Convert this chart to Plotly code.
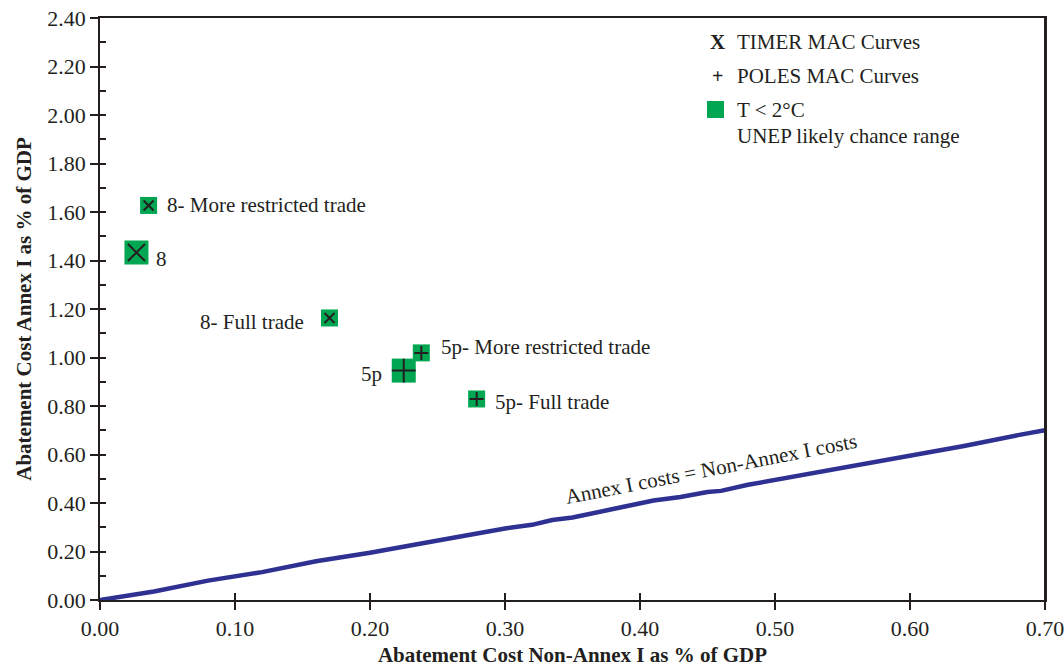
import plotly.graph_objects as go

# Equal-cost reference line (Annex I costs = Non-Annex I costs)
line_x = [0.00, 0.04, 0.08, 0.12, 0.16, 0.20, 0.24, 0.28, 0.30, 0.32, 0.335, 0.35, 0.37,
          0.38, 0.41, 0.43, 0.45, 0.46, 0.48, 0.50, 0.52, 0.56, 0.60, 0.64, 0.68, 0.70]
line_y = [0.00, 0.035, 0.08, 0.115, 0.16, 0.195, 0.235, 0.275, 0.295, 0.31, 0.33, 0.34, 0.365,
          0.375, 0.41, 0.425, 0.445, 0.45, 0.475, 0.495, 0.515, 0.555, 0.595, 0.635, 0.68, 0.70]

# Scenario points
timer_names = ["8- More restricted trade", "8", "8- Full trade"]
timer_x = [0.036, 0.027, 0.170]
timer_y = [1.627, 1.433, 1.163]
timer_big = [False, True, False]

poles_names = ["5p- More restricted trade", "5p", "5p- Full trade"]
poles_x = [0.238, 0.225, 0.279]
poles_y = [1.019, 0.946, 0.829]
poles_big = [False, True, False]

x_ticks = [0.0, 0.1, 0.2, 0.3, 0.4, 0.5, 0.6, 0.7]
y_ticks = [0.0, 0.2, 0.4, 0.6, 0.8, 1.0, 1.2, 1.4, 1.6, 1.8, 2.0, 2.2, 2.4]

GREEN = "#00a651"
INK = "#231f20"
BLUE = "#2e3192"
FONT = "Liberation Serif"
TXT = 21
TICK = 22

fig = go.Figure()

fig.add_trace(go.Scatter(x=line_x, y=line_y, mode="lines",
                         line=dict(color=BLUE, width=4.5), hoverinfo="skip"))

def add_points(xs, ys, big, symbol):
    sq = [24 if b else 17 for b in big]
    mk = [17 if b else 10 for b in big]
    fig.add_trace(go.Scatter(x=xs, y=ys, mode="markers",
                             marker=dict(symbol="square", size=sq, color=GREEN,
                                         opacity=1, line=dict(width=0))))
    fig.add_trace(go.Scatter(x=xs, y=ys, mode="markers",
                             marker=dict(symbol=symbol, size=mk, color=INK, opacity=1,
                                         line=dict(width=2, color=INK))))

add_points(timer_x, timer_y, timer_big, "x-thin")
add_points(poles_x, poles_y, poles_big, "cross-thin")

# hidden trace to anchor the overlay axes carrying the inner ticks
fig.add_trace(go.Scatter(x=[0], y=[0], xaxis="x2", yaxis="y2", mode="markers",
                         marker=dict(opacity=0), hoverinfo="skip"))

lab = dict(font=dict(family=FONT, size=TXT, color=INK), showarrow=False,
           yanchor="middle")
# point labels
fig.add_annotation(x=timer_x[0], y=timer_y[0], text=timer_names[0], xanchor="left",
                   xshift=16, **lab)
fig.add_annotation(x=timer_x[1], y=timer_y[1], text=timer_names[1], xanchor="left",
                   xshift=18, yshift=-6, **lab)
fig.add_annotation(x=timer_x[2], y=timer_y[2], text=timer_names[2], xanchor="right",
                   xshift=-24, yshift=-4, **lab)
fig.add_annotation(x=poles_x[0], y=poles_y[0], text=poles_names[0], xanchor="left",
                   xshift=18, yshift=6, **lab)
fig.add_annotation(x=poles_x[1], y=poles_y[1], text=poles_names[1], xanchor="right",
                   xshift=-20, yshift=-3, **lab)
fig.add_annotation(x=poles_x[2], y=poles_y[2], text=poles_names[2], xanchor="left",
                   xshift=16, yshift=-3, **lab)

# line label
fig.add_annotation(x=0.4525, y=0.54, text="Annex I costs = Non-Annex I costs",
                   textangle=-11, xanchor="center", **lab)

# legend block
paper = dict(xref="paper", yref="paper", showarrow=False, yanchor="middle")
def px(xp):
    return (xp - 100) / 945
def py(yp):
    return (600 - yp) / 582
leg_font = dict(family=FONT, size=TXT, color=INK)
fig.add_annotation(x=px(717), y=py(42), text="<b>X</b>", xanchor="center",
                   font=leg_font, **paper)
fig.add_annotation(x=px(735), y=py(42), text="TIMER MAC Curves", xanchor="left",
                   font=leg_font, **paper)
fig.add_annotation(x=px(717), y=py(76), text="<b>+</b>", xanchor="center",
                   font=dict(family=FONT, size=20, color=INK), **paper)
fig.add_annotation(x=px(735), y=py(76), text="POLES MAC Curves", xanchor="left",
                   font=leg_font, **paper)
fig.add_shape(type="rect", xref="paper", yref="paper",
              x0=px(707), x1=px(724), y0=py(118), y1=py(101),
              fillcolor=GREEN, line=dict(width=0))
fig.add_annotation(x=px(735), y=py(110), text="T &lt; 2°C", xanchor="left",
                   font=leg_font, **paper)
fig.add_annotation(x=px(735), y=py(136), text="UNEP likely chance range", xanchor="left",
                   font=leg_font, **paper)

# right edge of the plot frame
fig.add_shape(type="line", xref="paper", yref="paper", x0=1, x1=1, y0=0, y1=1,
              line=dict(color=INK, width=2), layer="above")

fig.update_layout(
    width=1064, height=667,
    margin=dict(l=100, r=19, t=18, b=67),
    paper_bgcolor="white", plot_bgcolor="white",
    showlegend=False,
    font=dict(family=FONT, size=TXT, color=INK),
    xaxis=dict(range=[0, 0.7], tickvals=x_ticks,
               ticktext=[f"{v:.2f}" for v in x_ticks],
               showgrid=False, zeroline=False, automargin=False,
               ticklabeloverflow="allow",
               showline=True, linecolor=INK, linewidth=1.5, mirror=True,
               ticks="outside", ticklen=8, tickwidth=1.5, tickcolor=INK,
               tickfont=dict(family=FONT, size=TICK, color=INK),
               title=dict(text="<b>Abatement Cost Non-Annex I as % of GDP</b>",
                          font=dict(family=FONT, size=TXT, color=INK), standoff=12)),
    yaxis=dict(range=[0, 2.4], tickvals=y_ticks,
               ticktext=[f"{v:.2f}" for v in y_ticks],
               showgrid=False, zeroline=False, automargin=False,
               ticklabeloverflow="allow",
               showline=True, linecolor=INK, linewidth=1.5, mirror=True,
               ticks="outside", ticklen=8, tickwidth=1.5, tickcolor=INK,
               tickfont=dict(family=FONT, size=TICK, color=INK),
               title=dict(text="<b>Abatement Cost Annex I as % of GDP</b>",
                          font=dict(family=FONT, size=TXT, color=INK), standoff=10)),
    xaxis2=dict(range=[0, 0.7], overlaying="x", side="bottom", anchor="y",
                tickvals=x_ticks[1:-1], showticklabels=False, showgrid=False,
                zeroline=False, showline=False, automargin=False,
                ticks="inside", ticklen=7, tickwidth=1.5, tickcolor=INK),
    yaxis2=dict(range=[0, 2.4], overlaying="y", side="left", anchor="x",
                dtick=0.1, tick0=0, showticklabels=False, showgrid=False,
                zeroline=False, showline=False, automargin=False,
                ticks="inside", ticklen=6, tickwidth=1.5, tickcolor=INK),
)

fig.write_html("out.html")
